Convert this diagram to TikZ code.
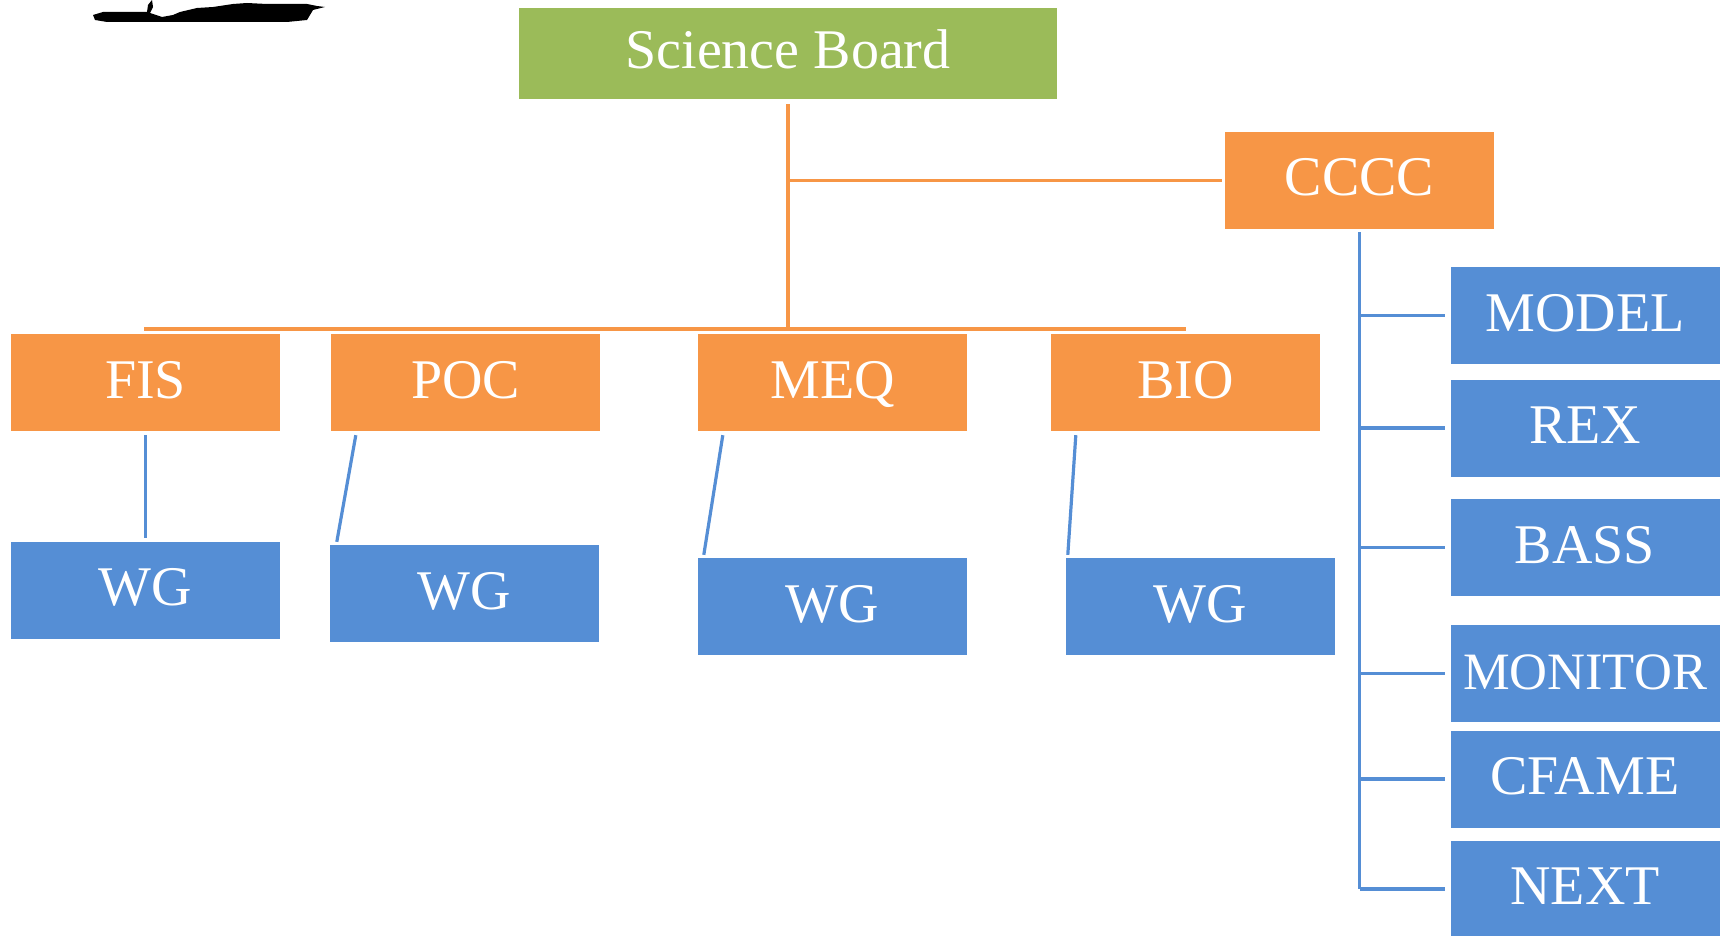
\documentclass[tikz,border=0pt]{standalone}
\usepackage{fontspec}
\setmainfont{Liberation Serif}
\usetikzlibrary{calc}
\definecolor{sbgreen}{HTML}{9BBB59}
\definecolor{orgbox}{HTML}{F79646}
\definecolor{bluebox}{HTML}{558ED5}
\tikzset{
  boxbase/.style={rectangle, inner sep=0pt, text=white, minimum width=269pt, minimum height=97pt,
     text height=37pt, text depth=6pt, font=\fontsize{56}{60}\selectfont},
  greenbox/.style={boxbase, fill=sbgreen, minimum width=538pt, minimum height=91pt},
  orangebox/.style={boxbase, fill=orgbox},
  bluebx/.style={boxbase, fill=bluebox},
  oline/.style={draw=orgbox, line width=3.2pt},
  bline/.style={draw=bluebox, line width=3.2pt},
}
\begin{document}
\begin{tikzpicture}[x=1pt,y=-1pt]
\useasboundingbox (0,0) rectangle (1723,936);
% black blot
\fill[black] (93,15) -- (103,12) -- (147,12) -- (148,5) -- (152,0) -- (153,7) -- (150,13)
  -- (162,17) -- (173,15) -- (180,12) -- (197,8) -- (213,7) -- (233,4) -- (247,3)
  -- (267,4) -- (307,4) -- (317,6) -- (325,7) -- (313,10) -- (310,15) -- (307,20)
  -- (287,22) -- (107,22) -- (95,20) -- cycle;
% nodes
\node[greenbox] (sb) at (788,53.5) {Science Board};
\node[orangebox] (cccc) at (1359.5,180.5) {CCCC};
\node[orangebox] (fis) at (145.5,382.5) {FIS};
\node[orangebox] (poc) at (465.5,382.5) {POC};
\node[orangebox] (meq) at (832.5,382.5) {MEQ};
\node[orangebox] (bio) at (1185.5,382.5) {BIO};
\node[bluebx] (wga) at (145.5,590) {WG};
\node[bluebx] (wgb) at (464.5,593.5) {WG};
\node[bluebx] (wgc) at (832.5,606.5) {WG};
\node[bluebx] (wgd) at (1200.5,606.5) {WG};
\node[bluebx] (model) at (1585,315.5) {MODEL};
\node[bluebx] (rex) at (1585,428) {REX};
\node[bluebx] (bass) at (1585,547.5) {BASS};
\node[bluebx, font=\fontsize{52.5}{56}\selectfont] (monitor) at (1585,673.5) {MONITOR};
\node[bluebx] (cfame) at (1585,779) {CFAME};
\node[bluebx] (next) at (1585,889) {NEXT};
% orange connectors
\coordinate (busL) at (144,329);
\coordinate (busR) at (1186,329);
\draw[oline] (busL) -- (busR);
\draw[oline] ([yshift=-5pt]sb.south) -- (sb.south |- busL);
\draw[oline] (sb.south |- cccc.west) -- ([xshift=-3pt]cccc.west);
% blue connectors
\draw[bline] ([yshift=-3pt]cccc.south) -- (cccc.south |- next.west);
\foreach \b in {model,rex,bass,monitor,cfame,next}{
  \draw[bline] (cccc.south |- \b.west) -- ([xshift=-5pt]\b.west);
}
\draw[bline] ([yshift=-4pt]fis.south) -- ([yshift=3pt]wga.north);
\draw[bline] ([xshift=25pt,yshift=-4pt]poc.south west) -- ([xshift=7pt,yshift=3pt]wgb.north west);
\draw[bline] ([xshift=25pt,yshift=-4pt]meq.south west) -- ([xshift=6pt,yshift=3pt]wgc.north west);
\draw[bline] ([xshift=25pt,yshift=-4pt]bio.south west) -- ([xshift=2pt,yshift=3pt]wgd.north west);
\end{tikzpicture}
\end{document}
